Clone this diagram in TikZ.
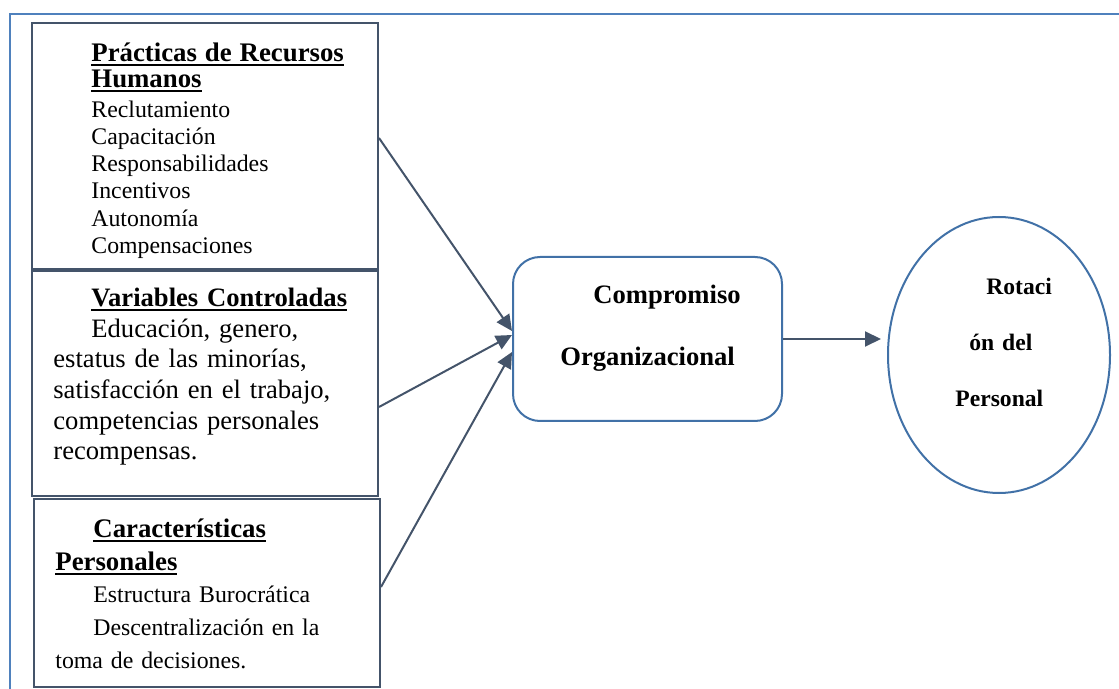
\documentclass[tikz,border=0pt]{standalone}
\usepackage{fontspec}
\setmainfont{Liberation Serif}
\usepackage{xcolor}
\usetikzlibrary{arrows.meta,shapes.geometric}
\definecolor{slateg}{RGB}{68,84,106}
\definecolor{frameb}{RGB}{79,129,189}
\definecolor{shapeb}{RGB}{65,113,167}
\newsavebox{\titbox}
\newcommand{\tit}[1]{\leavevmode\sbox{\titbox}{\textbf{#1}}\rlap{\rule[-2.3pt]{\wd\titbox}{1pt}}\usebox{\titbox}}

\begin{document}
\begin{tikzpicture}[x=0.5pt,y=0.5pt,
  caja/.style={draw=slateg,line width=1pt,inner sep=0pt},
  txt/.style={inner sep=0pt,anchor=base west,align=left,text width=160pt},
  flecha/.style={draw=slateg,line width=1pt,-{Triangle[length=8pt,width=7.5pt]}}]
\useasboundingbox (0,0) rectangle (1119,-689);
\draw[frameb,line width=1.4pt] (1125,-14) -| (10,-695);
\node[caja,minimum width=173pt,minimum height=123pt] (1) at (205,-146) {};
\node[caja,minimum width=173pt,minimum height=112.5pt] (2) at (205,-383.5) {};
\node[caja,minimum width=173pt,minimum height=94pt] (3) at (207,-593) {};
\node[draw=shapeb,line width=1pt,rounded corners=13.5pt,minimum width=134.5pt,minimum height=82pt] (4) at (647.5,-339) {};
\node[draw=shapeb,line width=1pt,ellipse,minimum width=111pt,minimum height=138pt,inner sep=0pt] (5) at (999,-355) {};
\node[txt,font=\fontsize{11.9}{13.6}\selectfont] (11) at (91,-61.7)
  {{\fontsize{13.4}{13.6}\selectfont\tit{Prácticas de Recursos}}\\[-0.8pt]
   {\fontsize{13.4}{13.6}\selectfont\tit{Humanos}}\\[1.4pt]
   Reclutamiento\\Capacitación\\Responsabilidades\\Incentivos\\Autonomía\\Compensaciones};
\node[txt,font=\fontsize{13.3}{15.3}\selectfont] (12) at (53,-306.7)
  {\hspace*{19pt}\tit{Variables Controladas}\\
   \hspace*{19pt}Educación, genero,\\estatus de las minorías,\\satisfacción en el trabajo,\\competencias personales\\recompensas.};
\node[txt,font=\fontsize{11.9}{16.35}\selectfont] (13) at (55,-537.3)
  {\hspace*{19pt}{\fontsize{13.4}{16.35}\selectfont\tit{Características}}\\
   {\fontsize{13.4}{16.35}\selectfont\tit{Personales}}\\
   \hspace*{19pt}Estructura Burocrática\\
   \hspace*{19pt}Descentralización en la\\toma de decisiones.};
\node[txt,text width=100pt,font=\fontsize{13.3}{31}\selectfont\bfseries] (14) at (560,-303.3)
  {\hspace*{16.5pt}Compromiso\\Organizacional};
\node[txt,text width=60pt,font=\fontsize{11.8}{28}\selectfont\bfseries] (15) at (955,-295)
  {\hspace*{15.5pt}Rotaci\\\hspace*{7pt}ón del\\Personal};
\draw[flecha] ([yshift=4pt]1.east) to ([yshift=4pt]4.west);
\draw[flecha] ([yshift=-11.75pt]2.east) to ([yshift=2pt]4.west);
\draw[flecha] ([yshift=3pt]3.east) to ([yshift=-6.5pt]4.west);
\draw[flecha] (4.east) to ([xshift=-3pt]4.east -| 5.west);
\end{tikzpicture}
\end{document}
